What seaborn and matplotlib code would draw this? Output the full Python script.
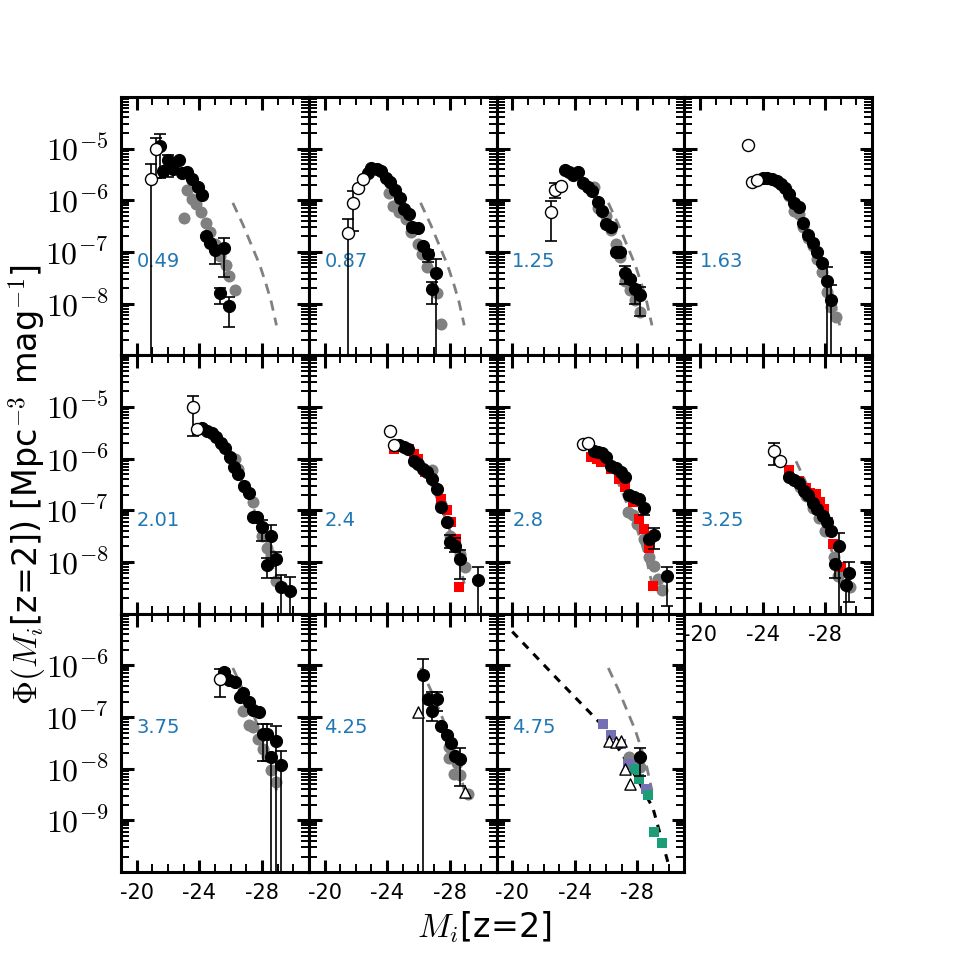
import matplotlib
matplotlib.use('Agg')
import math
import matplotlib.pyplot as plt
import seaborn as sns
from matplotlib.ticker import FixedLocator, FuncFormatter, LogLocator

# ------------------------------------------------------ #
# DATA (one sub-list per panel, same order as Z_LABELS)
# ------------------------------------------------------ #
Z_LABELS = ['0.49', '0.87', '1.25', '1.63', '2.01', '2.4', '2.8', '3.25',
            '3.75', '4.25', '4.75']

X_MAJOR = [-20, -24, -28]
X_MAJOR_LABELS = ['-20', '-24', '-28']
X_MINOR = [-19, -21, -22, -23, -25, -26, -27, -29, -30, -31]

# grey filled circles
GRAY_M = [
    [-23.0, -23.2, -23.5, -23.8, -24.1, -24.4, -24.7, -25.0, -25.3, -25.7, -25.9, -26.3],
    [-24.1, -24.4, -24.75, -25.2, -25.5, -25.95, -26.25, -26.55, -27.2, -27.45],
    [-25.25, -25.5, -26.0, -26.3, -26.6, -26.9, -27.2, -27.5, -27.85, -28.15],
    [-25.7, -26.0, -26.3, -26.6, -26.9, -27.2, -27.5, -27.8, -28.1, -28.4, -28.7],
    [-25.4, -25.95, -26.3, -26.5, -26.85, -27.4, -28.0, -28.3, -28.6, -28.9],
    [-26.9, -27.45, -28.0, -28.3, -28.65, -29.0],
    [-27.4, -27.7, -28.0, -28.4, -28.75, -29.05, -29.3, -29.6],
    [-26.4, -26.75, -27.2, -27.6, -28.0, -28.55, -28.85, -29.6],
    [-26.8, -27.15, -27.45, -27.75, -28.05, -28.35, -28.6, -28.9],
    [-27.95, -27.95, -28.3, -28.5, -28.3, -28.65, -29.2],
    [-27.45, -28.15],
]
GRAY_PHI = [
    [4.5e-7, 1.6e-6, 1.07e-6, 8.6e-7, 5.9e-7, 3.7e-7, 2.4e-7, 1.45e-7, 8.5e-8, 5.5e-8, 3.5e-8, 1.8e-8],
    [1.4e-6, 7.6e-7, 5.8e-7, 4.3e-7, 2.4e-7, 1.45e-7, 9.3e-8, 5e-8, 1.6e-8, 4.1e-9],
    [1.8e-6, 7.2e-7, 5e-7, 2.7e-7, 1.45e-7, 8.1e-8, 2.8e-8, 1.8e-8, 1.15e-8, 7e-9],
    [1.2e-6, 6.3e-7, 5.5e-7, 3.0e-7, 1.9e-7, 1.3e-7, 7.4e-8, 4.1e-8, 1.7e-8, 8.5e-9, 5.5e-9],
    [1.9e-6, 1.05e-6, 1.0e-6, 6.3e-7, 2.8e-7, 1.45e-7, 3.2e-8, 1.9e-8, 1.35e-8, 4.3e-9],
    [6e-7, 1.3e-7, 3.2e-8, 2.8e-8, 1.4e-8, 8e-9],
    [9.3e-8, 8e-8, 5.5e-8, 2.8e-8, 1.26e-8, 8.5e-9, 4.7e-9, 2.9e-9],
    [2.8e-7, 1.9e-7, 1.1e-7, 7e-8, 4e-8, 1.26e-8, 5.4e-9, 3.3e-9],
    [1.3e-7, 6.9e-8, 6.3e-8, 3.8e-8, 2.45e-8, 1.8e-8, 9.3e-9, 5.5e-9],
    [2.6e-8, 1.6e-8, 1.6e-8, 1.3e-8, 8e-9, 7.5e-9, 3.3e-9],
    [1.66e-8, 1.07e-8],
]

# black filled circles
BLACK_M = [
    [-21.5, -21.7, -22.0, -22.3, -22.7, -22.9, -23.2, -23.5, -23.9, -24.2, -24.4, -24.7,
     -25.0, -25.6, -25.3, -25.9],
    [-22.8, -23.0, -23.35, -23.6, -23.9, -24.2, -24.5, -24.8, -25.1, -25.4, -25.6, -26.0,
     -26.3, -26.6, -26.85, -27.15],
    [-23.35, -23.6, -23.9, -24.2, -24.55, -24.85, -25.1, -25.45, -25.75, -26.0, -26.3,
     -26.6, -26.9, -27.2, -27.5, -27.85, -28.15],
    [-24.0, -24.3, -24.6, -24.95, -25.2, -25.45, -25.7, -26.0, -26.3, -26.6, -26.9, -27.2,
     -27.5, -27.8, -28.1, -28.4],
    [-24.2, -24.5, -24.8, -25.05, -25.4, -25.65, -25.95, -26.2, -26.5, -26.85, -27.15,
     -27.45, -27.7, -28.0, -28.3, -28.6, -28.9, -29.2, -29.8],
    [-24.75, -25.05, -25.35, -25.7, -26.0, -26.3, -26.55, -26.9, -27.2, -27.45, -27.8,
     -28.05, -28.35, -28.65, -29.8],
    [-25.2, -25.5, -25.75, -26.0, -26.3, -26.65, -26.95, -27.2, -27.45, -27.8, -28.1,
     -28.4, -28.75, -29.05, -29.9],
    [-25.7, -26.0, -26.3, -26.65, -26.9, -27.2, -27.5, -27.85, -28.1, -28.4, -28.9,
     -28.65, -29.3, -29.55],
    [-25.55, -25.9, -26.25, -26.6, -26.8, -27.15, -27.45, -27.8, -28.05, -28.35, -28.6,
     -28.9, -29.2],
    [-26.27, -26.6, -26.9, -27.2, -27.45, -27.8, -28.1, -28.35, -28.65],
    [-28.15],
]
BLACK_PHI = [
    [1.1e-5, 3.7e-6, 5.9e-6, 4e-6, 6.1e-6, 3.3e-6, 3.6e-6, 2.6e-6, 1.8e-6, 1.25e-6, 2e-7,
     1.5e-7, 1.07e-7, 1.2e-7, 1.6e-8, 9e-9],
    [3.3e-6, 4.3e-6, 4.1e-6, 3.7e-6, 2.75e-6, 2.3e-6, 1.55e-6, 1.1e-6, 6.9e-7, 5.5e-7,
     3.1e-7, 2.9e-7, 1.3e-7, 9.3e-8, 1.9e-8, 4e-8],
    [3.9e-6, 3.5e-6, 3.1e-6, 3.5e-6, 2.2e-6, 1.8e-6, 1.5e-6, 9.4e-7, 6.3e-7, 3.5e-7, 3e-7,
     1e-7, 1e-7, 4e-8, 3e-8, 1.95e-8, 1.45e-8],
    [2.75e-6, 2.75e-6, 2.6e-6, 2.4e-6, 2.1e-6, 1.7e-6, 1.35e-6, 8.7e-7, 7.3e-7, 3.7e-7,
     2.1e-7, 1.5e-7, 9.8e-8, 6e-8, 2.7e-8, 1.2e-8],
    [3.9e-6, 3.4e-6, 3.2e-6, 2.6e-6, 2e-6, 1.6e-6, 1.1e-6, 6.9e-7, 5.1e-7, 2.9e-7, 2.2e-7,
     7.4e-8, 7.4e-8, 4.8e-8, 8.7e-9, 3.2e-8, 1.15e-8, 3.3e-9, 2.8e-9],
    [1.8e-6, 1.65e-6, 1.55e-6, 9e-7, 8e-7, 6.3e-7, 5.6e-7, 4.1e-7, 2.6e-7, 1.15e-7,
     5.9e-8, 2.45e-8, 2e-8, 1.15e-8, 4.5e-9],
    [1.4e-6, 1.35e-6, 1.3e-6, 1.1e-6, 7.3e-7, 6.6e-7, 5.6e-7, 4.4e-7, 2e-7, 1.85e-7,
     1.65e-7, 1.1e-7, 2.8e-8, 3.3e-8, 5.4e-9],
    [4.4e-7, 3.9e-7, 3.4e-7, 2.4e-7, 2e-7, 1.4e-7, 1.07e-7, 7.9e-8, 6e-8, 4e-8, 2e-8,
     9e-9, 3.6e-9, 6.2e-9],
    [7.4e-7, 5.1e-7, 4.8e-7, 2.4e-7, 2.9e-7, 1.95e-7, 1.35e-7, 1.26e-7, 4.8e-8, 4.8e-8,
     1.7e-8, 3.5e-8, 1.2e-8],
    [6.5e-7, 2.2e-7, 1.3e-7, 2.2e-7, 6.6e-8, 4.5e-8, 3.1e-8, 1.8e-8, 1.55e-8],
    [1.66e-8],
]

# open circles
WHITE_M = [[-20.89, -21.2], [-21.5, -21.85, -22.15, -22.45], [-22.47, -22.7, -23.1],
           [-23.04, -23.35, -23.67], [-23.6, -23.85], [-24.2, -24.45], [-24.5, -24.85],
           [-24.75, -25.1], [-25.3], [], []]
WHITE_PHI = [[2.6e-6, 1e-5], [2.3e-7, 8.7e-7, 1.7e-6, 2.6e-6], [5.8e-7, 1.6e-6, 1.9e-6],
             [1.15e-5, 2.3e-6, 2.5e-6], [1e-5, 3.7e-6], [3.4e-6, 1.8e-6], [1.9e-6, 2e-6],
             [1.4e-6, 9.1e-7], [5.5e-7], [], []]

# red squares (z = 2.4, 2.8, 3.25)
RED_M = {5: [-24.45, -25.4, -25.7, -26.0, -26.45, -27.45, -27.8, -28.1, -28.4, -28.6],
         6: [-25.05, -25.4, -25.7, -26.3, -26.8, -27.2, -27.7, -28.1, -28.4, -28.75, -29.0],
         7: [-25.7, -26.3, -26.75, -27.05, -27.4, -27.65, -27.9, -28.2, -28.5, -29.0]}
RED_PHI = {5: [1.55e-6, 1.55e-6, 1.25e-6, 1e-6, 5.5e-7, 1.65e-7, 1e-7, 5.9e-8, 2.8e-8, 3.3e-9],
           6: [1.07e-6, 1e-6, 8.5e-7, 6.3e-7, 4e-7, 2.8e-7, 1.45e-7, 6.8e-8, 4.3e-8, 1.9e-8,
               3.5e-9],
           7: [6e-7, 3.7e-7, 2.7e-7, 2.2e-7, 2.1e-7, 1.45e-7, 1.07e-7, 5.9e-8, 2.2e-8, 7.9e-9]}

# open triangles (z = 4.25, 4.75)
TRI_M = {9: [-26.0, -29.0], 10: [-26.2, -26.6, -26.95, -27.2, -27.5]}
TRI_PHI = {9: [1.25e-7, 3.6e-9], 10: [3.5e-8, 3.3e-8, 3.5e-8, 1e-8, 5e-9]}

# purple and green squares (z = 4.75)
PURPLE_M = [-25.8, -26.3, -26.95, -27.4, -27.6, -28.55]
PURPLE_PHI = [7.2e-8, 4.5e-8, 3e-8, 1.26e-8, 1.2e-8, 4e-9]
GREEN_M = [-27.85, -28.1, -28.7, -29.05, -29.6]
GREEN_PHI = [1e-8, 6.3e-9, 3.1e-9, 5.9e-10, 3.6e-10]

# grey dashed curve (same in every panel)
CURVE_M = [-26.14, -26.78, -27.32, -27.86, -28.28, -28.6, -28.93]
CURVE_PHI = [8.9e-7, 3.4e-7, 1.38e-7, 5.6e-8, 2.3e-8, 1.07e-8, 3.8e-9]

# black dashed curve (z = 4.75)
FIT_M = [-20.0, -23.0, -26.0, -27.0, -28.1, -29.0, -29.95]
FIT_PHI = [4.5e-6, 5e-7, 5.8e-8, 1.95e-8, 5.6e-9, 1.7e-9, 1.55e-10]

# error bars: point, lower end, upper end (1e-12 = down to the axis)
ERR_M = [
    [-20.89, -21.2, -21.5, -22.0, -25.0, -25.6, -25.3, -25.9],
    [-21.5, -21.85, -26.6, -26.85, -27.15],
    [-22.47, -22.7, -27.2, -27.85, -28.15],
    [-28.1, -28.4],
    [-23.6, -28.0, -28.3, -28.6, -28.9, -29.2, -29.8],
    [-28.05, -28.35, -28.65, -29.8],
    [-28.4, -29.05, -29.9],
    [-24.75, -28.9, -28.65, -29.3, -29.55],
    [-25.3, -25.55, -28.05, -28.35, -28.6, -28.9, -29.2],
    [-26.27, -26.9, -27.2, -28.65],
    [-28.15],
]
ERR_PHI = [
    [2.6e-6, 1e-5, 1.1e-5, 5.9e-6, 1.07e-7, 1.2e-7, 1.6e-8, 9e-9],
    [2.3e-7, 8.7e-7, 9.3e-8, 1.9e-8, 4e-8],
    [5.8e-7, 1.6e-6, 4e-8, 1.95e-8, 1.45e-8],
    [2.7e-8, 1.2e-8],
    [1e-5, 4.8e-8, 8.7e-9, 3.2e-8, 1.15e-8, 3.3e-9, 2.8e-9],
    [2.45e-8, 2e-8, 1.15e-8, 4.5e-9],
    [1.1e-7, 3.3e-8, 5.4e-9],
    [1.4e-6, 2e-8, 9e-9, 3.6e-9, 6.2e-9],
    [5.5e-7, 7.4e-7, 4.8e-8, 4.8e-8, 1.7e-8, 3.5e-8, 1.2e-8],
    [6.5e-7, 1.3e-7, 2.2e-7, 1.55e-8],
    [1.66e-8],
]
ERR_LO = [
    [1e-12, 2.7e-6, 2.7e-6, 2.8e-6, 5.9e-8, 3.3e-8, 1e-8, 3.6e-9],
    [1e-12, 2.5e-7, 6.5e-8, 1e-8, 1e-12],
    [1.65e-7, 1.1e-6, 2.4e-8, 1e-8, 5.8e-9],
    [1e-12, 1e-12],
    [2.8e-6, 2.6e-8, 5e-9, 8.5e-9, 4.9e-9, 1e-12, 1e-12],
    [1.9e-8, 1.55e-8, 4.6e-9, 1e-12],
    [8e-8, 1.75e-8, 1.4e-9],
    [7.7e-7, 1e-12, 5e-9, 1e-12, 1.7e-9],
    [2.4e-7, 7.4e-7, 1.4e-8, 1.4e-8, 1e-12, 1e-12, 1e-12],
    [1e-12, 8.5e-8, 1.3e-7, 4.6e-9],
    [7.1e-9],
]
ERR_HI = [
    [5.1e-6, 1.6e-5, 1.9e-5, 7.6e-6, 1.07e-7, 1.9e-7, 2e-8, 1.35e-8],
    [4.3e-7, 1.5e-6, 1.1e-7, 2.6e-8, 7.4e-8],
    [9.6e-7, 2.2e-6, 5.4e-8, 2.3e-8, 2.1e-8],
    [5e-8, 2.3e-8],
    [1.6e-5, 6.5e-8, 1.2e-8, 5.1e-8, 1.55e-8, 5.5e-9, 5.1e-9],
    [3.3e-8, 2.9e-8, 1.7e-8, 8e-9],
    [1.1e-7, 4.5e-8, 8.1e-9],
    [2e-6, 3.6e-8, 9e-9, 3.6e-9, 1e-8],
    [8.7e-7, 8.7e-7, 7.4e-8, 7.4e-8, 1.7e-8, 6.7e-8, 2.2e-8],
    [1.3e-6, 3e-7, 3e-7, 2.5e-8],
    [2.5e-8],
]

# ------------------------------------------------------ #
# STYLE
# ------------------------------------------------------ #
sns.set_style('white')
plt.rcParams.update({
    'font.family': ['DejaVu Sans'],
    'mathtext.fontset': 'cm',
    'text.color': 'black',
    'axes.linewidth': 2.2,
    'axes.edgecolor': 'black',
    'xtick.color': 'black', 'ytick.color': 'black',
    'xtick.labelcolor': 'black', 'ytick.labelcolor': 'black',
})

GREY = '#808080'
BLUE = '#1f77b4'


def log_label(v, pos):
    """10^n in Computer Modern, as in the original"""
    return r'$10^{%d}$' % round(math.log10(v))


fig, axes = plt.subplots(3, 4, figsize=(9.69, 9.69), dpi=100, sharex=True)
fig.subplots_adjust(left=0.125, right=0.9, bottom=0.1, top=0.9, wspace=0, hspace=0)
axes[2, 3].remove()

panels = [axes[0, 0], axes[0, 1], axes[0, 2], axes[0, 3],
          axes[1, 0], axes[1, 1], axes[1, 2], axes[1, 3],
          axes[2, 0], axes[2, 1], axes[2, 2]]

for i, ax in enumerate(panels):
    row = i // 4
    ax.set_yscale('log')

    # grey dashed curve
    sns.lineplot(x=CURVE_M, y=CURVE_PHI, ax=ax, color=GREY, linewidth=2.0,
                 sort=False, zorder=1)
    ax.lines[-1].set_dashes([3.7, 2.6])

    if i == 10:
        sns.lineplot(x=FIT_M, y=FIT_PHI, ax=ax, color='black', linewidth=2.2,
                     sort=False, zorder=1)
        ax.lines[-1].set_dashes([2.6, 2.4])

    sns.scatterplot(x=GRAY_M[i], y=GRAY_PHI[i], ax=ax, color=GREY, s=75,
                    linewidth=0, zorder=2)

    if i in RED_M:
        sns.scatterplot(x=RED_M[i], y=RED_PHI[i], ax=ax, color='red', marker='s',
                        s=45, linewidth=0, zorder=3)
    if i == 10:
        sns.scatterplot(x=PURPLE_M, y=PURPLE_PHI, ax=ax, color='#7570b3', marker='s',
                        s=50, linewidth=0, zorder=3)
        sns.scatterplot(x=GREEN_M, y=GREEN_PHI, ax=ax, color='#1b9e77', marker='s',
                        s=50, linewidth=0, zorder=3)

    # error bars
    yerr = [[p - lo for p, lo in zip(ERR_PHI[i], ERR_LO[i])],
            [hi - p for p, hi in zip(ERR_PHI[i], ERR_HI[i])]]
    ax.errorbar(ERR_M[i], ERR_PHI[i], yerr=yerr, fmt='none', ecolor='black',
                elinewidth=1.2, capsize=4, capthick=1.2, zorder=4)

    sns.scatterplot(x=BLACK_M[i], y=BLACK_PHI[i], ax=ax, color='black', s=75,
                    edgecolor='black', linewidth=0.8, zorder=5)
    if WHITE_M[i]:
        sns.scatterplot(x=WHITE_M[i], y=WHITE_PHI[i], ax=ax, color='white', s=75,
                        edgecolor='black', linewidth=1.0, zorder=6)
    if i in TRI_M:
        sns.scatterplot(x=TRI_M[i], y=TRI_PHI[i], ax=ax, color='white', marker='^',
                        s=65, edgecolor='black', linewidth=1.0, zorder=6)

    if row < 2:
        ax.set_ylim(1e-9, 1e-4)
        ax.yaxis.set_major_locator(FixedLocator([1e-8, 1e-7, 1e-6, 1e-5]))
    else:
        ax.set_ylim(1e-10, 1e-5)
        ax.yaxis.set_major_locator(FixedLocator([1e-9, 1e-8, 1e-7, 1e-6]))
    ax.yaxis.set_minor_locator(LogLocator(base=10, subs=range(2, 10), numticks=100))
    ax.yaxis.set_major_formatter(FuncFormatter(log_label))

    ax.text(-20, 5e-8, Z_LABELS[i], color=BLUE, fontsize=14, ha='left', va='baseline')

    ax.set_xlabel('')
    ax.set_ylabel('')

axes[0, 0].set_xlim(-19, -31)
axes[0, 0].set_xticks(X_MAJOR, labels=X_MAJOR_LABELS)
axes[0, 0].set_xticks(X_MINOR, minor=True)

for i, ax in enumerate(panels):
    ax.tick_params(which='both', direction='in', top=True, bottom=True,
                   left=True, right=True, color='black', labelcolor='black')
    ax.tick_params(which='major', length=9, width=2.2)
    ax.tick_params(which='minor', length=5.5, width=1.4)
    ax.tick_params(axis='y', which='major', labelsize=23, pad=9)
    ax.tick_params(axis='x', which='major', labelsize=15, pad=8)
    if i % 4 != 0:
        ax.tick_params(labelleft=False)
axes[1, 3].tick_params(labelbottom=True)

fig.text(0.5, 0.033, r'$M_i$[z=2]', fontsize=24, ha='center', va='baseline')
fig.text(0.039, 0.5, r'$\Phi(M_i$[z=2]) [Mpc$^{-3}$ mag$^{-1}$]', fontsize=24,
         rotation=90, rotation_mode='anchor', ha='center', va='baseline')

fig.savefig('out.png', dpi=100)
